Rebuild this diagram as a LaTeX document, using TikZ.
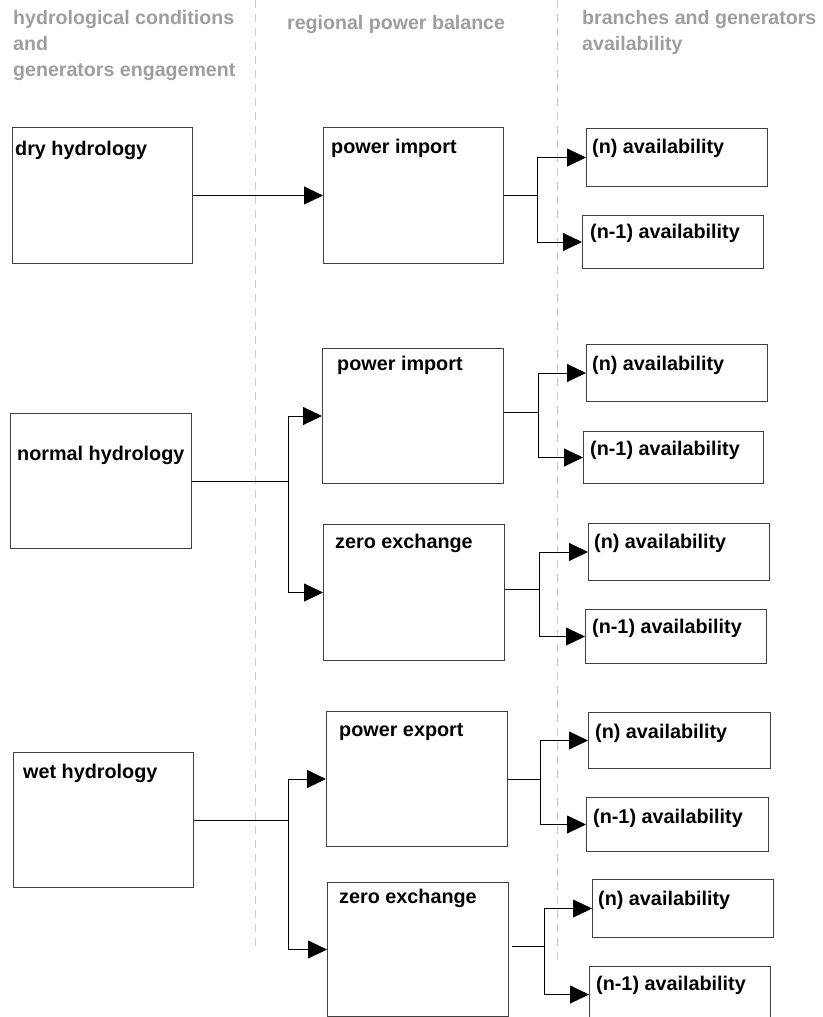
\documentclass[tikz,border=0pt]{standalone}
\usepackage{fontspec}
\setmainfont{Liberation Sans}
\usetikzlibrary{arrows.meta}

\begin{document}
\begin{tikzpicture}[
    x=1pt, y=-1pt,
    font=\fontsize{19.8}{26}\selectfont\bfseries,
    box/.style={
        draw=black!75,
        line width=1pt,
        anchor=north west,
        inner sep=0pt
    },
    txt/.style={anchor=base west, inner sep=0pt},
    head/.style={
        anchor=north west,
        inner sep=0pt,
        align=left,
        font=\fontsize{19.6}{26}\selectfont\bfseries,
        text=black!38
    },
    divider/.style={draw=black!20, line width=1pt, dash pattern=on 8pt off 6pt},
    link/.style={line width=0.9pt, draw=black},
    arrow/.style={-{Triangle[length=19pt, width=18pt]}, line width=0.9pt, draw=black}
]
\useasboundingbox (0,0) rectangle (822,1017);

% column dividers
\coordinate (div1top) at (255,0);
\coordinate (div1bot) at (255,948);
\coordinate (div2top) at (557,0);
\coordinate (div2bot) at (557,965);
\draw[divider] (div1top) -- (div1bot);
\draw[divider] (div2top) -- (div2bot);

% column headers
\node[head] (headhydro) at (13,10) {hydrological conditions\\and\\generators engagement};
\node[head] (headbalance) at (287,15) {regional power balance};
\node[head] (headavail) at (582,10) {branches and generators\\availability};

% hydrological conditions
\node[box, minimum width=180pt, minimum height=136pt] (dry) at (12,127) {};
\node[box, minimum width=181pt, minimum height=135pt] (normal) at (10,413) {};
\node[box, minimum width=180pt, minimum height=135pt] (wet) at (13,752) {};
\node[txt] (drytext) at (15,155) {dry hydrology};
\node[txt] (normaltext) at (17,460) {normal hydrology};
\node[txt] (wettext) at (23,778) {wet hydrology};

% regional power balance
\node[box, minimum width=180pt, minimum height=136pt] (import1) at (323,127) {};
\node[box, minimum width=181pt, minimum height=135pt] (import2) at (322,348) {};
\node[box, minimum width=181pt, minimum height=136pt] (zero1) at (323,524) {};
\node[box, minimum width=181pt, minimum height=135pt] (export) at (326,711) {};
\node[box, minimum width=181pt, minimum height=134pt] (zero2) at (327,882) {};
\node[txt] (import1text) at (331,153) {power import};
\node[txt] (import2text) at (337,370) {power import};
\node[txt] (zero1text) at (335,548) {zero exchange};
\node[txt] (exporttext) at (339,736) {power export};
\node[txt] (zero2text) at (339,903) {zero exchange};

% branches and generators availability
\node[box, minimum width=181pt, minimum height=58pt] (availA) at (586,128) {};
\node[box, minimum width=181pt, minimum height=53pt] (availAm) at (582,215) {};
\node[box, minimum width=181pt, minimum height=57pt] (availB) at (586,344) {};
\node[box, minimum width=180pt, minimum height=52pt] (availBm) at (583,431) {};
\node[box, minimum width=181pt, minimum height=57pt] (availC) at (588,523) {};
\node[box, minimum width=181pt, minimum height=54pt] (availCm) at (585,609) {};
\node[box, minimum width=182pt, minimum height=56pt] (availD) at (588,712) {};
\node[box, minimum width=182pt, minimum height=54pt] (availDm) at (586,797) {};
\node[box, minimum width=181pt, minimum height=58pt] (availE) at (592,879) {};
\node[box, minimum width=181pt, minimum height=56pt] (availEm) at (589,966) {};
\node[txt] (availAtext) at (592,153) {(n) availability};
\node[txt] (availAmtext) at (590,238) {(n-1) availability};
\node[txt] (availBtext) at (592,370) {(n) availability};
\node[txt] (availBmtext) at (590,455) {(n-1) availability};
\node[txt] (availCtext) at (594,548) {(n) availability};
\node[txt] (availCmtext) at (592,633) {(n-1) availability};
\node[txt] (availDtext) at (595,738) {(n) availability};
\node[txt] (availDmtext) at (593,823) {(n-1) availability};
\node[txt] (availEtext) at (598,905) {(n) availability};
\node[txt] (availEmtext) at (596,990) {(n-1) availability};

% hydrology -> balance
\draw[arrow] (dry) -- (import1);
\draw[link] (normal.east) -- ++(96,0) coordinate (forknormal);
\draw[arrow] (forknormal) |- (import2);
\draw[arrow] (forknormal) |- (zero1);
\draw[link] (wet.east) -- ++(94,0) coordinate (forkwet);
\draw[arrow] (forkwet) |- (export);
\draw[arrow] (forkwet) |- (zero2);

% balance -> availability
\draw[link] (import1.east) -- ++(33,0) coordinate (forkA);
\draw[arrow] (forkA) |- (availA);
\draw[arrow] (forkA) |- (availAm);
\draw[link] ([yshift=4pt]import2.east) -- ++(34,0) coordinate (forkB);
\draw[arrow] (forkB) |- (availB);
\draw[arrow] (forkB) |- (availBm);
\draw[link] ([yshift=3pt]zero1.east) -- ++(34,0) coordinate (forkC);
\draw[arrow] (forkC) |- (availC);
\draw[arrow] (forkC) |- (availCm);
\draw[link] (export.east) -- ++(32,0) coordinate (forkD);
\draw[arrow] (forkD) |- (availD);
\draw[arrow] (forkD) |- (availDm);
\draw[link] ([xshift=3pt, yshift=3pt]zero2.east) -- ++(32,0) coordinate (forkE);
\draw[arrow] (forkE) |- (availE);
\draw[arrow] (forkE) |- (availEm);
\end{tikzpicture}
\end{document}
